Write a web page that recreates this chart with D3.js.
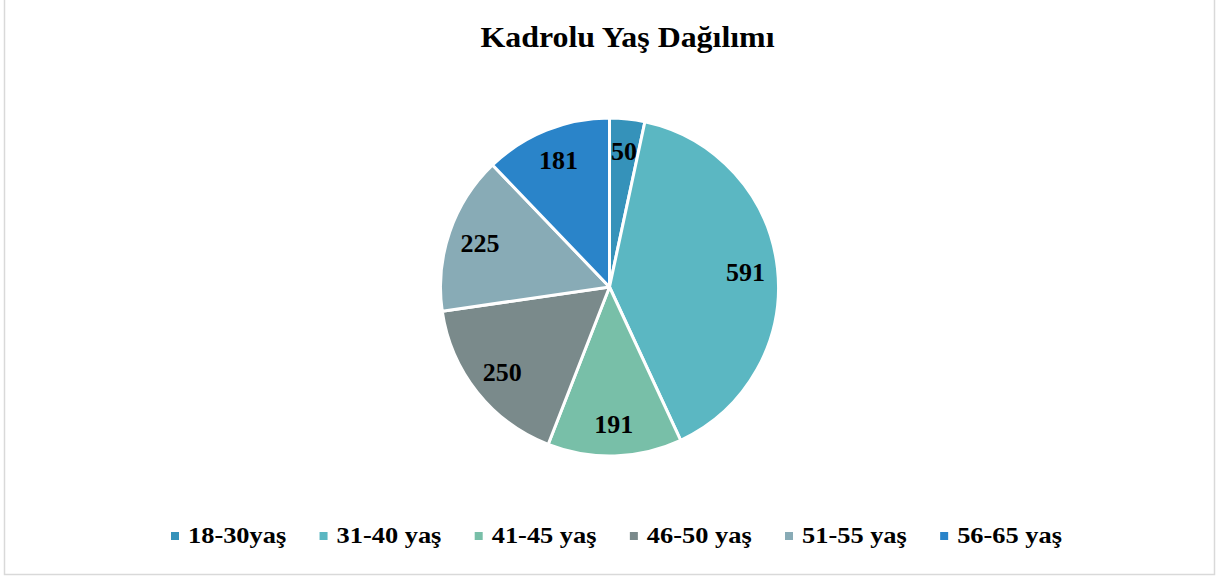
<!DOCTYPE html>
<html><head><meta charset="utf-8">
<script src="https://cdn.jsdelivr.net/npm/d3@7/dist/d3.min.js"></script>
<style>body{margin:0;background:#fff}svg{display:block}</style>
</head><body>
<svg id="c" width="1219" height="579"></svg>
<script>
const categories = ["18-30yaş","31-40 yaş","41-45 yaş","46-50 yaş","51-55 yaş","56-65 yaş"];
const values = [50,591,191,250,225,181];
const colors = ["#3592ba","#5bb7c2","#78bfa8","#7a8a8b","#88abb6","#2a84c9"];
const title = "Kadrolu Yaş Dağılımı";

const FONT = "Liberation Serif, Times New Roman, serif";
const svg = d3.select("#c");
svg.append("rect").attr("x",4.5).attr("y",-1).attr("width",1210).attr("height",575.5)
  .attr("fill","#fff").attr("stroke","#d9d9d9").attr("stroke-width",1.5);

svg.append("text").attr("transform","translate(627.5,46.5) scale(1.1,1)").attr("text-anchor","middle")
  .attr("font-family",FONT).attr("font-weight","bold")
  .attr("font-size",29).attr("fill","#000").text(title);

const cx = 609.5, cy = 287, R = 169;
const pie = d3.pie().sort(null).value(d=>d)(values);
const arc = d3.arc().innerRadius(0).outerRadius(R);
const g = svg.append("g").attr("transform",`translate(${cx},${cy})`);
g.selectAll("path").data(pie).join("path")
  .attr("d",arc).attr("fill",(d,i)=>colors[i])
  .attr("stroke","#fff").attr("stroke-width",3).attr("stroke-linejoin","round");
const labelArc = d3.arc().innerRadius(R*0.81).outerRadius(R*0.81);
g.selectAll("text").data(pie).join("text")
  .attr("transform",d=>`translate(${labelArc.centroid(d)})`)
  .attr("text-anchor","middle").attr("dy","0.35em")
  .attr("font-family",FONT).attr("font-weight","bold")
  .attr("font-size",26).attr("fill","#000").text(d=>d.data);

// legend
const SX = 1.1;
const lg = svg.append("g");
const items = lg.selectAll("g").data(categories).join("g");
items.append("rect").attr("width",8).attr("height",8).attr("y",-11).attr("fill",(d,i)=>colors[i]);
const texts = items.append("text").attr("transform",`translate(17,0) scale(${SX},1)`)
  .attr("font-family",FONT).attr("font-weight","bold")
  .attr("font-size",24).attr("fill","#000").text(d=>d);
const widths = texts.nodes().map(n=>n.getComputedTextLength()*SX+17);
const x0 = 171, x1 = 1062;
const total = d3.sum(widths);
const gap = (x1-x0-total)/(categories.length-1);
let x = x0;
items.each(function(d,i){ d3.select(this).attr("transform",`translate(${x},543)`); x += widths[i]+gap; });
</script>
</body></html>
